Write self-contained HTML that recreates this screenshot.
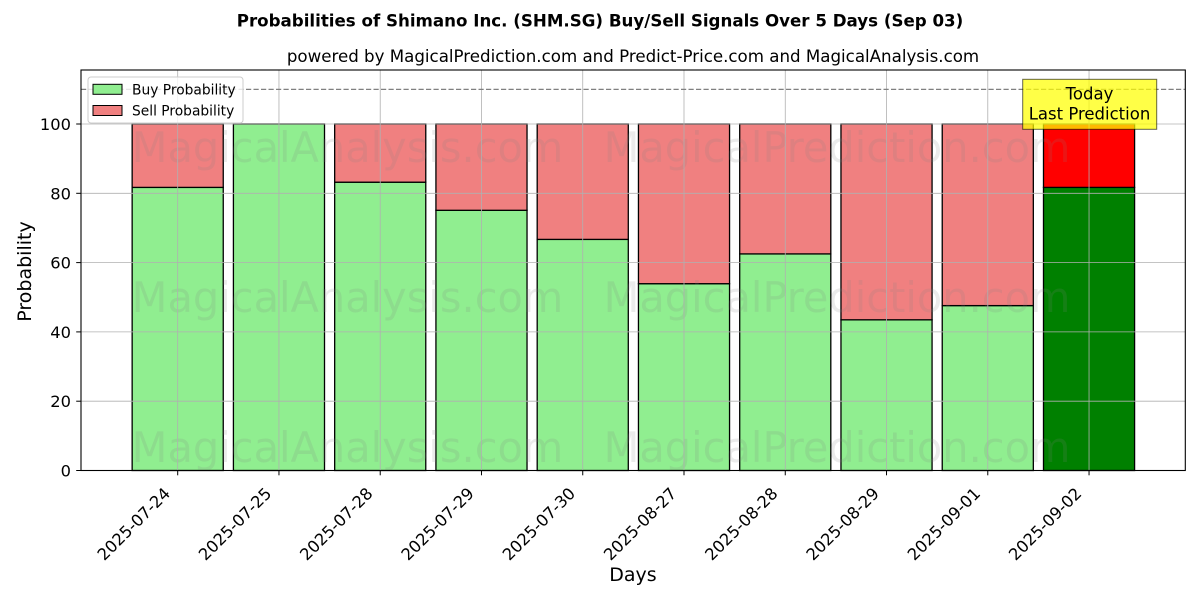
<!DOCTYPE html>
<html>
<head>
<meta charset="utf-8">
<style>
html,body{margin:0;padding:0;background:#fff;}
svg{display:block;font-family:"DejaVu Sans","Liberation Sans",sans-serif;}
</style>
</head>
<body>
<svg width="1200" height="600" viewBox="0 0 1200 600" xmlns="http://www.w3.org/2000/svg">
<rect width="1200" height="600" fill="#fff"/>
<text x="600" y="26.5" text-anchor="middle" font-size="16.67" font-weight="bold" fill="#000">Probabilities of Shimano Inc. (SHM.SG) Buy/Sell Signals Over 5 Days (Sep 03)</text>
<text x="633" y="62" text-anchor="middle" font-size="16.67" fill="#000">powered by MagicalPrediction.com and Predict-Price.com and MagicalAnalysis.com</text>

<!-- bars -->
<g stroke="#000" stroke-width="1.3">
<rect x="132.15" y="187.4" width="91.1" height="283.1" fill="#90ee90"/>
<rect x="132.15" y="124" width="91.1" height="63.4" fill="#f08080"/>
<rect x="233.41" y="124" width="91.1" height="346.5" fill="#90ee90"/>
<rect x="334.67" y="182.2" width="91.1" height="288.3" fill="#90ee90"/>
<rect x="334.67" y="124" width="91.1" height="58.2" fill="#f08080"/>
<rect x="435.93" y="210.3" width="91.1" height="260.2" fill="#90ee90"/>
<rect x="435.93" y="124" width="91.1" height="86.3" fill="#f08080"/>
<rect x="537.19" y="239.4" width="91.1" height="231.1" fill="#90ee90"/>
<rect x="537.19" y="124" width="91.1" height="115.4" fill="#f08080"/>
<rect x="638.45" y="283.7" width="91.1" height="186.8" fill="#90ee90"/>
<rect x="638.45" y="124" width="91.1" height="159.7" fill="#f08080"/>
<rect x="739.71" y="253.9" width="91.1" height="216.6" fill="#90ee90"/>
<rect x="739.71" y="124" width="91.1" height="129.9" fill="#f08080"/>
<rect x="840.97" y="319.8" width="91.1" height="150.7" fill="#90ee90"/>
<rect x="840.97" y="124" width="91.1" height="195.8" fill="#f08080"/>
<rect x="942.23" y="305.6" width="91.1" height="164.9" fill="#90ee90"/>
<rect x="942.23" y="124" width="91.1" height="181.6" fill="#f08080"/>
<rect x="1043.49" y="187.4" width="91.1" height="283.1" fill="#008000"/>
<rect x="1043.49" y="124" width="91.1" height="63.4" fill="#ff0000"/>
</g>

<!-- watermarks -->
<g font-size="41.5" fill="#808080" fill-opacity="0.16" text-anchor="middle">
<text x="347.5" y="162">MagicalAnalysis.com</text>
<text x="837" y="162">MagicalPrediction.com</text>
<text x="347.5" y="312">MagicalAnalysis.com</text>
<text x="837" y="312">MagicalPrediction.com</text>
<text x="347.5" y="462">MagicalAnalysis.com</text>
<text x="837" y="462">MagicalPrediction.com</text>
</g>

<!-- grid -->
<g stroke="#b0b0b0" stroke-width="0.8">
<line x1="81" x2="1185.3" y1="470.5" y2="470.5"/>
<line x1="81" x2="1185.3" y1="401.2" y2="401.2"/>
<line x1="81" x2="1185.3" y1="331.9" y2="331.9"/>
<line x1="81" x2="1185.3" y1="262.6" y2="262.6"/>
<line x1="81" x2="1185.3" y1="193.3" y2="193.3"/>
<line x1="81" x2="1185.3" y1="124" y2="124"/>
<line x1="177.7" x2="177.7" y1="70" y2="470.5"/>
<line x1="278.96" x2="278.96" y1="70" y2="470.5"/>
<line x1="380.22" x2="380.22" y1="70" y2="470.5"/>
<line x1="481.48" x2="481.48" y1="70" y2="470.5"/>
<line x1="582.74" x2="582.74" y1="70" y2="470.5"/>
<line x1="684" x2="684" y1="70" y2="470.5"/>
<line x1="785.26" x2="785.26" y1="70" y2="470.5"/>
<line x1="886.52" x2="886.52" y1="70" y2="470.5"/>
<line x1="987.78" x2="987.78" y1="70" y2="470.5"/>
<line x1="1089.04" x2="1089.04" y1="70" y2="470.5"/>
</g>

<!-- dashed 110 line -->
<line x1="81" x2="1185.3" y1="89.4" y2="89.4" stroke="#808080" stroke-width="1.2" stroke-dasharray="5.2,2.3"/>

<!-- axes frame -->
<rect x="81" y="70" width="1104.3" height="400.5" fill="none" stroke="#000" stroke-width="1.1"/>

<!-- y ticks -->
<g stroke="#000" stroke-width="1">
<line x1="76.2" x2="81" y1="470.5" y2="470.5"/>
<line x1="76.2" x2="81" y1="401.2" y2="401.2"/>
<line x1="76.2" x2="81" y1="331.9" y2="331.9"/>
<line x1="76.2" x2="81" y1="262.6" y2="262.6"/>
<line x1="76.2" x2="81" y1="193.3" y2="193.3"/>
<line x1="76.2" x2="81" y1="124" y2="124"/>
</g>
<g font-size="16.3" fill="#000" text-anchor="end">
<text x="71" y="476.5">0</text>
<text x="71" y="407.2">20</text>
<text x="71" y="337.9">40</text>
<text x="71" y="268.6">60</text>
<text x="71" y="199.3">80</text>
<text x="71" y="130">100</text>
</g>

<!-- x ticks -->
<g stroke="#000" stroke-width="1">
<line x1="177.7" x2="177.7" y1="470.5" y2="475.3"/>
<line x1="278.96" x2="278.96" y1="470.5" y2="475.3"/>
<line x1="380.22" x2="380.22" y1="470.5" y2="475.3"/>
<line x1="481.48" x2="481.48" y1="470.5" y2="475.3"/>
<line x1="582.74" x2="582.74" y1="470.5" y2="475.3"/>
<line x1="684" x2="684" y1="470.5" y2="475.3"/>
<line x1="785.26" x2="785.26" y1="470.5" y2="475.3"/>
<line x1="886.52" x2="886.52" y1="470.5" y2="475.3"/>
<line x1="987.78" x2="987.78" y1="470.5" y2="475.3"/>
<line x1="1089.04" x2="1089.04" y1="470.5" y2="475.3"/>
</g>
<g font-size="16.3" fill="#000" text-anchor="end">
<text transform="translate(171.2,494.5) rotate(-45)">2025-07-24</text>
<text transform="translate(272.46,494.5) rotate(-45)">2025-07-25</text>
<text transform="translate(373.72,494.5) rotate(-45)">2025-07-28</text>
<text transform="translate(474.98,494.5) rotate(-45)">2025-07-29</text>
<text transform="translate(576.24,494.5) rotate(-45)">2025-07-30</text>
<text transform="translate(677.5,494.5) rotate(-45)">2025-08-27</text>
<text transform="translate(778.76,494.5) rotate(-45)">2025-08-28</text>
<text transform="translate(880.02,494.5) rotate(-45)">2025-08-29</text>
<text transform="translate(981.28,494.5) rotate(-45)">2025-09-01</text>
<text transform="translate(1082.54,494.5) rotate(-45)">2025-09-02</text>
</g>

<!-- axis labels -->
<text x="633" y="581" text-anchor="middle" font-size="19" fill="#000">Days</text>
<text transform="translate(31,271.5) rotate(-90)" text-anchor="middle" font-size="19" fill="#000">Probability</text>

<!-- legend -->
<rect x="88" y="77" width="155" height="46" rx="3" ry="3" fill="#fff" fill-opacity="0.8" stroke="#cccccc" stroke-width="1"/>
<rect x="93" y="84.3" width="29" height="10" fill="#90ee90" stroke="#000" stroke-width="1"/>
<rect x="93" y="105.5" width="29" height="10" fill="#f08080" stroke="#000" stroke-width="1"/>
<text x="132" y="94.5" font-size="13.8" fill="#000">Buy Probability</text>
<text x="132" y="115.5" font-size="13.8" fill="#000">Sell Probability</text>

<!-- today box -->
<rect x="1022.7" y="79.3" width="134" height="50" fill="#ffff00" fill-opacity="0.72" stroke="#000" stroke-opacity="0.6" stroke-width="1"/>
<text x="1089.5" y="99.5" text-anchor="middle" font-size="16.5" fill="#000">Today</text>
<text x="1089.5" y="119.5" text-anchor="middle" font-size="16.5" fill="#000">Last Prediction</text>
</svg>
</body>
</html>
